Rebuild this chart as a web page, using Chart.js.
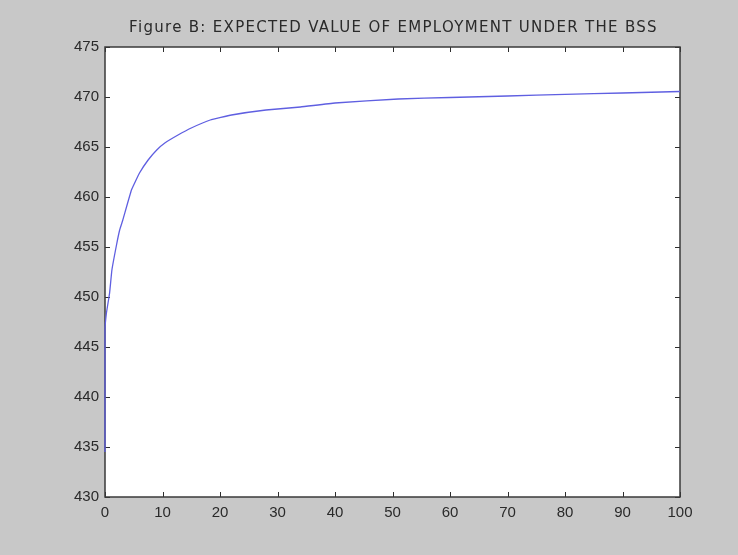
<!DOCTYPE html>
<html>
<head>
<meta charset="utf-8">
<script src="https://cdn.jsdelivr.net/npm/chart.js@4/dist/chart.umd.min.js"></script>
<style>
  html, body { margin: 0; padding: 0; background: #c8c8c8; }
  #wrap { width: 738px; height: 555px; }
</style>
</head>
<body>
<div id="wrap"><canvas id="c" width="738" height="555"></canvas></div>
<script>
// Time periods (x) and expected value of employment (y)
const periods = [0, 0, 0.25, 0.8, 1.2, 2, 2.55, 3.1, 4.6, 6, 7.5, 9, 10.4, 12.7, 15, 18.3, 22, 28, 34, 40, 51, 60, 70, 80, 90, 100];
const employmentValue = [434.5, 446.7, 448.4, 450.4, 452.7, 455.2, 456.7, 457.7, 460.7, 462.4, 463.7, 464.7, 465.4, 466.2, 466.9, 467.7, 468.2, 468.7, 469.0, 469.4, 469.8, 469.95, 470.1, 470.27, 470.4, 470.55];
const xTicks = [0, 10, 20, 30, 40, 50, 60, 70, 80, 90, 100];
const yTicks = [430, 435, 440, 445, 450, 455, 460, 465, 470, 475];
const titleText = 'Figure B: EXPECTED VALUE OF EMPLOYMENT UNDER THE BSS';

const points = periods.map((t, i) => ({ x: t, y: employmentValue[i] }));

// White axes box, frame, inward tick marks and a title centred over the axes
const frameAndTicks = {
  id: 'frameAndTicks',
  beforeDatasetsDraw(chart) {
    const { ctx, chartArea: a, scales } = chart;
    const len = 5;
    ctx.save();
    ctx.fillStyle = '#ffffff';
    ctx.fillRect(a.left, a.top, a.right - a.left, a.bottom - a.top);

    ctx.strokeStyle = '#2e2e2e';
    ctx.lineWidth = 1;
    ctx.beginPath();
    xTicks.forEach(v => {
      const px = Math.round(scales.x.getPixelForValue(v)) + 0.5;
      ctx.moveTo(px, a.bottom); ctx.lineTo(px, a.bottom - len);
      ctx.moveTo(px, a.top); ctx.lineTo(px, a.top + len);
    });
    yTicks.forEach(v => {
      const py = Math.round(scales.y.getPixelForValue(v)) + 0.5;
      ctx.moveTo(a.left, py); ctx.lineTo(a.left + len, py);
      ctx.moveTo(a.right, py); ctx.lineTo(a.right - len, py);
    });
    ctx.stroke();
    ctx.strokeStyle = '#3a3a3a';
    ctx.lineWidth = 1.5;
    ctx.strokeRect(a.left, a.top, a.right - a.left, a.bottom - a.top);

    ctx.fillStyle = '#2a2a2a';
    ctx.font = '15px "DejaVu Sans"';
    ctx.letterSpacing = '1.3px';
    ctx.textAlign = 'center';
    ctx.textBaseline = 'middle';
    ctx.fillText(titleText, (a.left + a.right) / 2 + 1, 28);
    ctx.restore();
  }
};

new Chart(document.getElementById('c'), {
  type: 'line',
  data: {
    datasets: [{
      data: points,
      borderColor: 'rgb(95, 95, 225)',
      borderWidth: 1.3,
      pointRadius: 0,
      tension: 0.1,
      fill: false,
      clip: 3
    }]
  },
  options: {
    responsive: false,
    animation: false,
    devicePixelRatio: 1,
    layout: { padding: { top: 47, right: 58, bottom: 0, left: 0 } },
    plugins: {
      legend: { display: false },
      tooltip: { enabled: false },
      title: { display: false }
    },
    scales: {
      x: {
        type: 'linear',
        min: 0, max: 100,
        afterBuildTicks: s => { s.ticks = xTicks.map(v => ({ value: v })); },
        afterFit: s => { s.height = 58; },
        grid: { display: false, drawTicks: false },
        border: { display: false },
        ticks: {
          color: '#2a2a2a',
          padding: 7,
          maxRotation: 0,
          font: { family: 'Liberation Sans', size: 15 }
        }
      },
      y: {
        type: 'linear',
        min: 430, max: 475,
        afterBuildTicks: s => { s.ticks = yTicks.map(v => ({ value: v })); },
        afterFit: s => { s.width = 105; },
        grid: { display: false, drawTicks: false },
        border: { display: false },
        ticks: {
          color: '#2a2a2a',
          padding: 6,
          font: { family: 'Liberation Sans', size: 15 }
        }
      }
    }
  },
  plugins: [frameAndTicks]
});
</script>
</body>
</html>
